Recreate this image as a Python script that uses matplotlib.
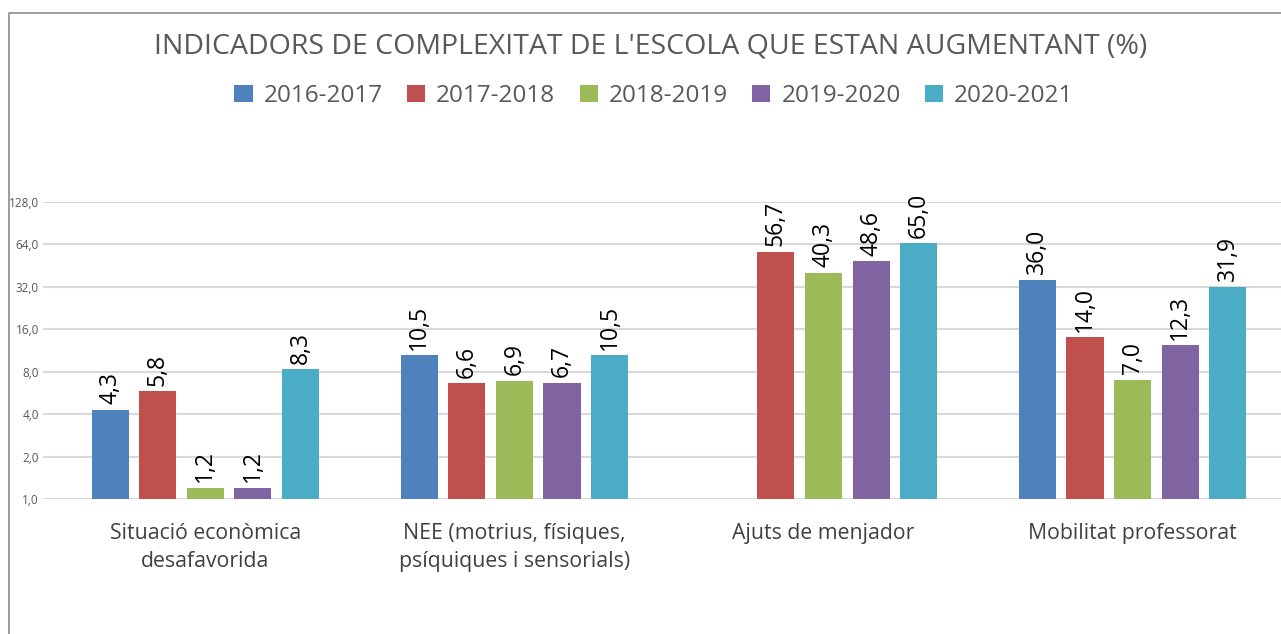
import numpy as np
import matplotlib.pyplot as plt
from matplotlib.ticker import FixedLocator, FuncFormatter, NullLocator
from matplotlib.lines import Line2D
from matplotlib.patches import Patch

plt.rcParams['font.family'] = ['Open Sans', 'DejaVu Sans']

# dades
categories = ["Situació econòmica\ndesafavorida",
              "NEE (motrius, físiques,\npsíquiques i sensorials)",
              "Ajuts de menjador",
              "Mobilitat professorat"]
cursos = ["2016-2017", "2017-2018", "2018-2019", "2019-2020", "2020-2021"]
v_2016 = [4.3, 10.5, np.nan, 36.0]
v_2017 = [5.8, 6.6, 56.7, 14.0]
v_2018 = [1.2, 6.9, 40.3, 7.0]
v_2019 = [1.2, 6.7, 48.6, 12.3]
v_2020 = [8.3, 10.5, 65.0, 31.9]
y_ticks = [1, 2, 4, 8, 16, 32, 64, 128]

series = [v_2016, v_2017, v_2018, v_2019, v_2020]
colors = ["#4f81bd", "#c0504d", "#9bbb59", "#8064a2", "#4bacc6"]

W, H = 1281, 634
fig = plt.figure(figsize=(W / 100, H / 100), dpi=100)
ax = fig.add_axes([43 / W, 1 - 499 / H, (W - 43) / W, (499 - 202) / H])

x = np.arange(len(categories))
step = 0.154
width = 0.12
for i, (vals, col) in enumerate(zip(series, colors)):
    pos = x + (i - 2) * step
    ax.bar(pos, vals, width=width, color=col, bottom=0, zorder=3)
    for p, v in zip(pos, vals):
        if np.isnan(v):
            continue
        ax.annotate(f"{v:.1f}".replace(".", ","), (p, v), xytext=(0, 4),
                    textcoords="offset points", rotation=90, ha="center",
                    va="bottom", fontsize=16.5, color="black")

ax.set_yscale("log", base=2)
ax.set_ylim(1, 128)
ax.set_xlim(-0.525, 3.48)
ax.yaxis.set_major_locator(FixedLocator(y_ticks))
ax.yaxis.set_minor_locator(NullLocator())
ax.yaxis.set_major_formatter(FuncFormatter(lambda v, p: f"{v:.1f}".replace(".", ",")))
ax.tick_params(axis="y", length=0, labelsize=8.5, labelcolor="#595959", pad=3)
ax.tick_params(axis="x", length=0, labelsize=15.3, labelcolor="#404040", pad=17)
ax.set_xticks(x)
ax.set_xticklabels(categories, linespacing=1.45)
ax.grid(axis="y", color="#d9d9d9", linewidth=1.5, zorder=0)
for s in ax.spines.values():
    s.set_visible(False)

fig.text(651 / W, 1 - 46 / H, "INDICADORS DE COMPLEXITAT DE L'ESCOLA QUE ESTAN AUGMENTANT (%)",
         ha="center", va="center", fontsize=20.5, color="#595959")

handles = [Patch(facecolor=c) for c in colors]
fig.legend(handles, cursos, loc="center", bbox_to_anchor=(654 / W, 1 - 96 / H), ncol=5,
           frameon=False, fontsize=17.5, labelcolor="#595959", handlelength=0.75,
           handleheight=0.75, handletextpad=0.45, columnspacing=1.0)

# marc del grafic
fig.add_artist(Line2D([9 / W, 9 / W, 1], [0, 1 - 13 / H, 1 - 13 / H],
                      transform=fig.transFigure, color="#8c8c8c", linewidth=1.2))

fig.savefig("out.png", dpi=100)
